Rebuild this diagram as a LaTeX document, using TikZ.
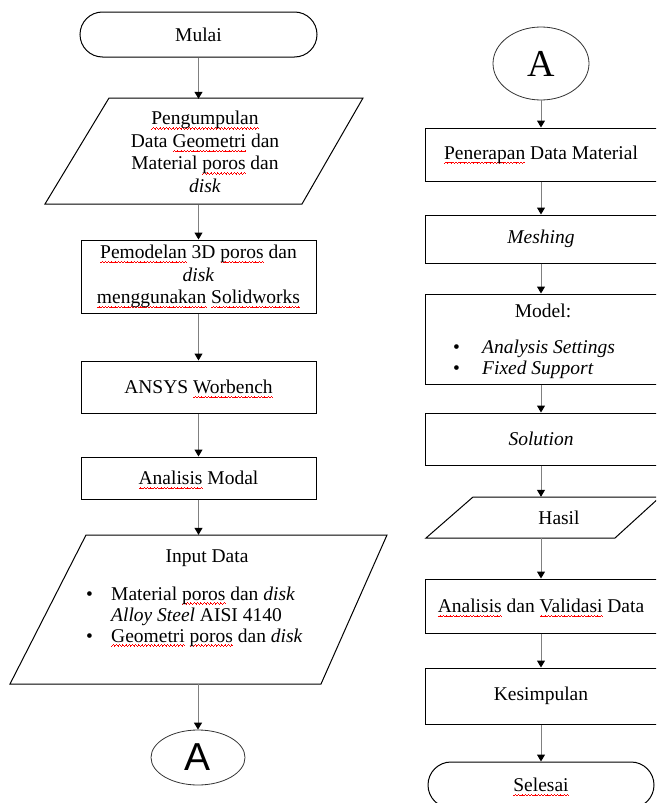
\documentclass[tikz,border=0pt]{standalone}
\usepackage{fontspec}
\setmainfont{Liberation Serif}
\newfontfamily\sansA{Liberation Sans}
\usetikzlibrary{arrows.meta,shapes.geometric}
\newcommand\wvpiece{\hbox{\vrule width0.8pt height0.7pt depth0pt\raise0.7pt\hbox{\vrule width0.8pt height0.7pt depth0pt}\raise1.4pt\hbox{\vrule width0.8pt height0.7pt depth0pt}\raise0.7pt\hbox{\vrule width0.8pt height0.7pt depth0pt}}}
\newcommand\sq[1]{\leavevmode\setbox0=\hbox{#1}\rlap{\raisebox{-4.5pt}[0pt][0pt]{\color{red}\hbox to \wd0{\xleaders\wvpiece\hfil}}}\box0\relax}
\newcommand\fs{\fontsize{19.5pt}{22.5pt}\selectfont}
\newcommand\fsl{\fontsize{19.5pt}{21pt}\selectfont}
\begin{document}
\begin{tikzpicture}[x=1pt,y=-1pt,
  txt/.style={font=\fs, align=center, inner sep=0pt},
  shp/.style={draw=black, line width=1pt},
  box/.style={txt, shp, minimum width=235pt},
  rbox/.style={txt, shp, minimum width=232pt},
  stadium/.style={txt, shp, rounded corners=22.5pt},
  conn/.style={txt, draw=black!80, line width=0.8pt, ellipse},
  frame/.style={inner sep=0pt},
  lst/.style={font=\fsl, inner sep=0pt, anchor=base west},
  arr/.style={draw=black!50, line width=1pt, -{Triangle[length=7pt,width=8pt,color=black]}}
]
\useasboundingbox (0,0) rectangle (656,803);
\clip (0,0) rectangle (656,803);

% ---------- left column ----------
\node[stadium, minimum width=237pt, minimum height=45pt] (mulai) at (198.5,34.5) {Mulai};

\node[txt, minimum width=254pt, minimum height=106pt] (peng) at (205,152)
  {\sq{Pengumpulan}\\Data \sq{Geometri} dan\\Material \sq{poros} dan\\\textit{disk}};
\draw[shp] (109,98) -- (363,98) -- (302,204) -- (45,204) -- cycle;

\node[box, minimum height=73pt] (pemod) at (198.5,276.5)
  {\sq{Pemodelan} 3D \sq{poros} dan\\\textit{disk}\\\sq{menggunakan} \sq{Solidworks}};

\node[box, minimum height=52pt] (ansys) at (198.5,387) {ANSYS \sq{Worbench}};

\node[box, minimum height=42pt] (anmod) at (198.5,478) {\sq{Analisis} Modal};

\node[frame, minimum width=300pt, minimum height=149pt] (input) at (198,609.5) {};
\draw[shp] (86,535) -- (387,535) -- (321,684) -- (10,684) -- cycle;
\node[txt, anchor=base] (intitle) at (207,562) {Input Data};
\node[lst] (inlist) at (86,600) {\begin{tabular}[t]{@{}p{25pt}@{}l@{}}
  \textbullet & Material \sq{poros} dan \textit{disk}\\
              & \textit{Alloy Steel} AISI 4140\\
  \textbullet & \sq{Geometri} \sq{poros} dan \textit{disk}
\end{tabular}};

\node[conn, minimum width=94pt, minimum height=55pt, font=\sansA\fontsize{39pt}{39pt}\selectfont] (conA) at (198,757.5) {A};

\draw[arr] (mulai) -- (mulai |- peng.north);
\draw[arr] (pemod |- peng.south) -- (pemod);
\draw[arr] (pemod) -- (ansys);
\draw[arr] (ansys) -- (anmod);
\draw[arr] (anmod) -- (anmod |- input.north);
\draw[arr] (conA |- input.south) -- (conA);

% ---------- right column ----------
\node[conn, minimum width=96pt, minimum height=73pt, font=\fontsize{38pt}{38pt}\selectfont] (conB) at (541,63.5) {A};

\node[rbox, minimum height=53pt] (pener) at (541,154.5) {\sq{Penerapan} Data Material};

\node[rbox, minimum height=48pt] (mesh) at (541,239) {\textit{Meshing}};

\node[rbox, minimum height=90pt] (model) at (541,339) {};
\node[txt, anchor=base] (mtitle) at (543,317) {Model:};
\node[lst] (mlist) at (453,353) {\begin{tabular}[t]{@{}p{29pt}@{}l@{}}
  \textbullet & \textit{Analysis Settings}\\
  \textbullet & \textit{Fixed Support}
\end{tabular}};

\node[rbox, minimum height=52pt] (sol) at (541,439) {\textit{Solution}};

\node[txt, minimum width=150pt, minimum height=41pt] (hasil) at (559,517.5) {Hasil};
\draw[shp] (473,497) -- (660,497) -- (615,538) -- (426,538) -- cycle;

\node[rbox, minimum height=54pt] (anval) at (541,606) {\sq{Analisis} dan \sq{Validasi} Data};

\node[rbox, minimum height=56pt] (kesim) at (541,696) {Kesimpulan};

\node[stadium, minimum width=226pt, minimum height=46pt, rounded corners=23pt] (selesai) at (541,785) {\sq{Selesai}};

\draw[arr] (conB) -- (pener);
\draw[arr] (pener) -- (mesh);
\draw[arr] (mesh) -- (model);
\draw[arr] (model) -- (sol);
\draw[arr] (sol) -- (sol |- hasil.north);
\draw[arr] (sol |- hasil.south) -- (anval);
\draw[arr] (anval) -- (kesim);
\draw[arr] (kesim) -- (selesai);
\end{tikzpicture}
\end{document}
